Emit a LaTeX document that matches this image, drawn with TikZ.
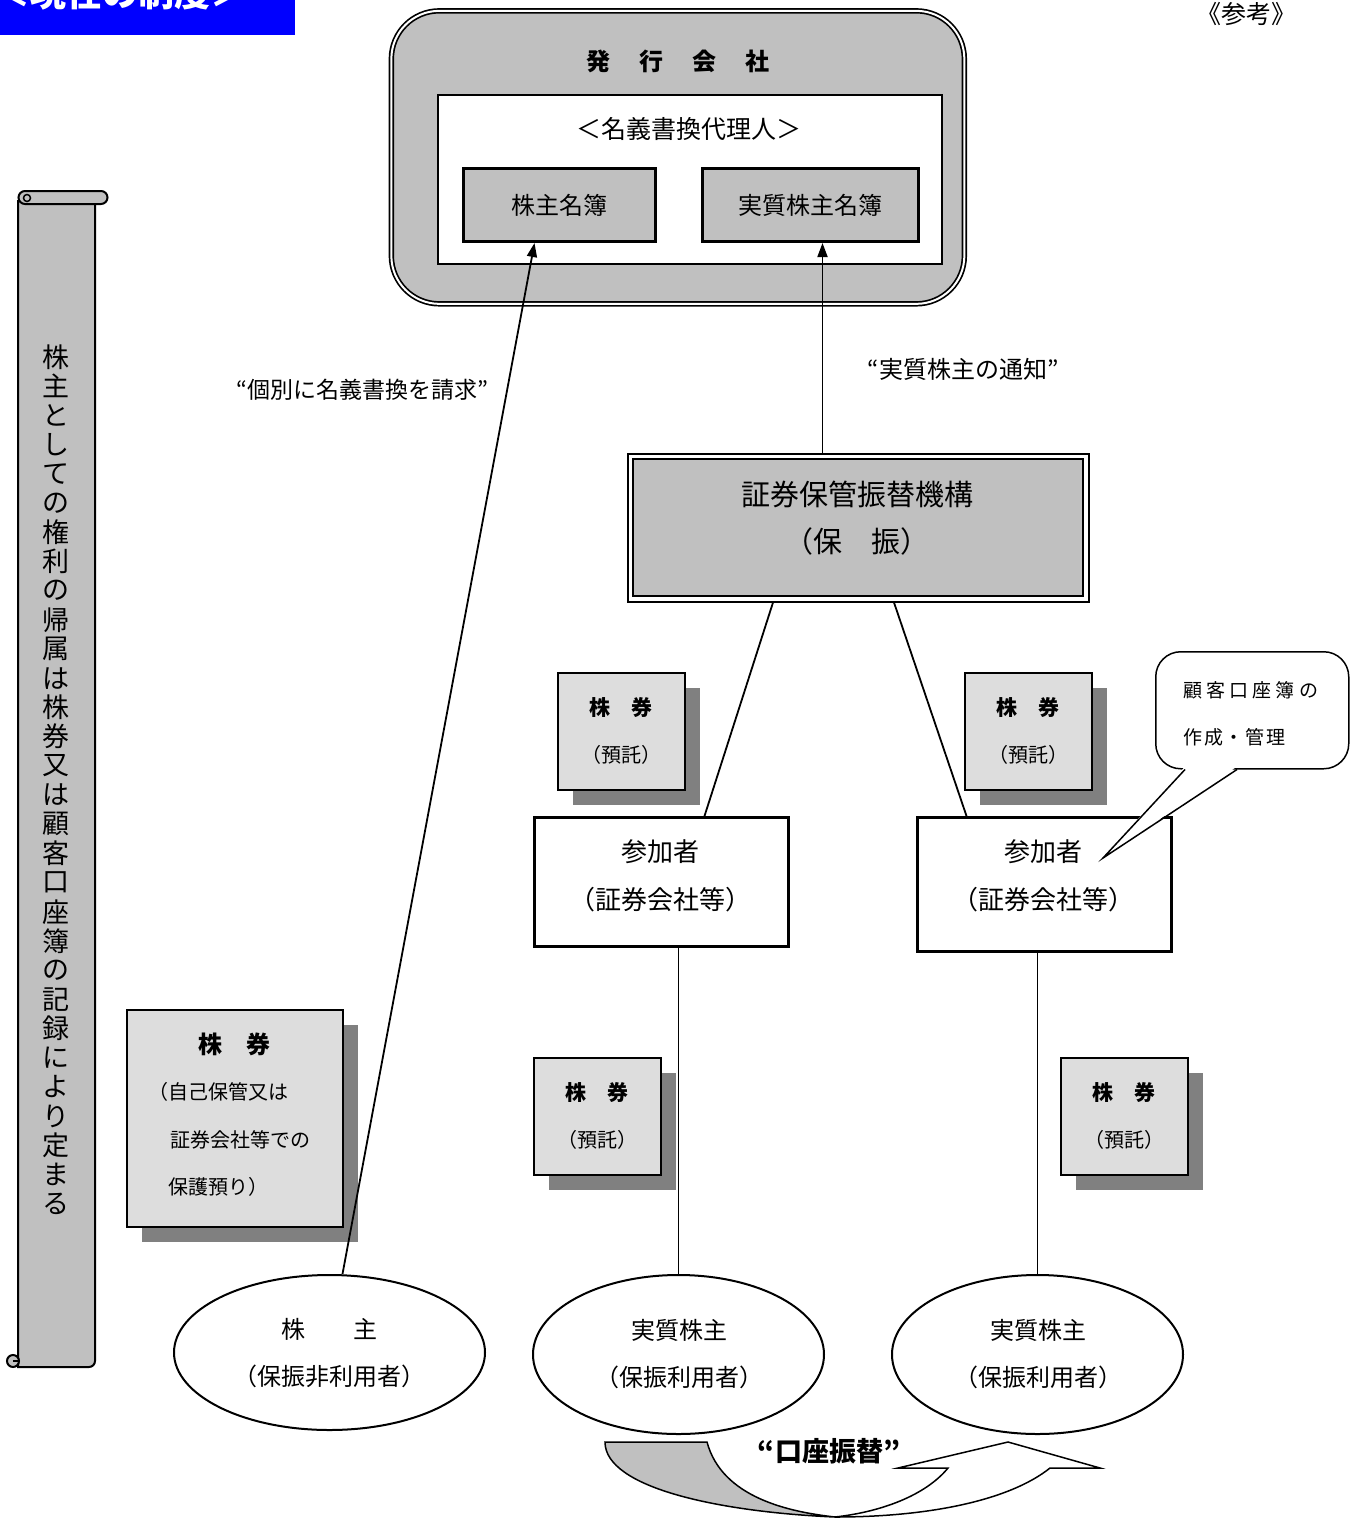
\documentclass[tikz,border=0pt]{standalone}
\usepackage{fontspec}
\setmainfont{Noto Sans CJK JP}
\usetikzlibrary{shapes.geometric,arrows.meta,calc}
\definecolor{sg}{HTML}{C0C0C0}
\definecolor{lg}{HTML}{DDDDDD}
\definecolor{sh}{HTML}{808080}
\definecolor{bl}{HTML}{0000FF}
\newcommand\fsz[1]{\fontsize{#1pt}{#1pt}\selectfont}
\begin{document}
\begin{tikzpicture}[x=1pt,y=-1pt,
  every node/.style={inner sep=0pt},
  txt/.style={inner sep=0pt, align=center},
  cshadow/.style={fill=sh, anchor=north west, minimum width=127pt, minimum height=117pt},
  cert/.style={draw, line width=1.5pt, fill=lg, anchor=north west, minimum width=127pt, minimum height=117pt},
  part/.style={draw, line width=3pt, fill=white, anchor=north west, minimum width=254pt},
  owner/.style={draw, ellipse, line width=2pt, fill=white},
  conn/.style={line width=1.8pt},
  arr/.style={line width=1.8pt, -{Triangle[length=14pt,width=10pt]}},
  book/.style={draw, line width=3pt, fill=sg, anchor=north west, minimum height=73pt, font=\fsz{24}}
]
\useasboundingbox (0,0) rectangle (1357,1521);

% top-left tag
\node[fill=bl, anchor=north west, minimum width=295pt, minimum height=50pt] (tag) at (0,-15) {};
\node[anchor=base west, text=white, font=\fsz{36}\bfseries] (tagtext) at (-6,6) {＜現在の制度＞};
\node[anchor=base, font=\fsz{25}] (ref) at (1246,23) {《参考》};

% scroll
\draw[line width=2pt, fill=sg] (18,200) -- (18,1367) -- (89,1367) arc[start angle=90, end angle=0, radius=6] -- (95,200);
\draw[line width=2pt, fill=sg] (25,191) -- (101,191) arc[start angle=-90, end angle=90, radius=6.5] -- (25,204) arc[start angle=90, end angle=270, radius=6.5] -- cycle;
\draw[line width=1.5pt] (27,198) circle[radius=3.5];
\draw[line width=2pt, fill=sg] (13,1361) circle[radius=6];
\draw[line width=1.5pt] (13,1361) -- (19,1361);
\foreach \c [count=\i from 0] in {株,主,と,し,て,の,権,利,の,帰,属,は,株,券,又,は,顧,客,口,座,簿,の,記,録,に,よ,り,定,ま,る}
  \node[font=\fsz{27}] (sc\i) at (56,357+29.2*\i) {\c};

% issuing company
\node[draw, line width=1.7pt, double=white, double distance=2pt, fill=sg, rounded corners=48pt, anchor=north west, minimum width=573pt, minimum height=293pt] (issuer) at (390.5,10) {};
\node[font=\fsz{24}\bfseries] (issuertitle) at (678,61) {発\hspace{29pt}行\hspace{29pt}会\hspace{29pt}社};
\node[draw, line width=1.5pt, fill=white, anchor=north west, minimum width=504pt, minimum height=169pt] (agent) at (437,94) {};
\node[font=\fsz{25}] (agenttitle) at (689,129) {＜名義書換代理人＞};
\node[book, minimum width=192pt] (meibo) at (462,167) {株主名簿};
\node[book, minimum width=216pt] (jmeibo) at (701,167) {実質株主名簿};

% hofuri
\node[draw, line width=2pt, anchor=north west, minimum width=461pt, minimum height=148pt] (hofuriout) at (626.5,452.5) {};
\node[draw, line width=2.8pt, fill=sg, minimum width=450pt, minimum height=137pt] (hofuri) at (hofuriout.center) {};
\node[font=\fsz{29}] (hofurit1) at (857,494) {証券保管振替機構};
\node[font=\fsz{29}] (hofurit2) at (857,541) {（保　振）};

% certificates
\node[cshadow] (cAs) at (573,688) {};
\node[cert] (cA) at (557,672) {};
\node[cshadow] (cBs) at (980,688) {};
\node[cert] (cB) at (964,672) {};
\node[cshadow] (cCs) at (549,1073) {};
\node[cert] (cC) at (533,1057) {};
\node[cshadow] (cDs) at (1076,1073) {};
\node[cert] (cD) at (1060,1057) {};
\foreach \n/\x/\y in {cA/621/707, cB/1028/707, cC/597/1092, cD/1124/1092}{
  \node[font=\fsz{21}\bfseries] (\n t1) at (\x,\y) {株　券};
  \node[font=\fsz{20}] (\n t2) at (\x,\y+48) {（預託）};
}
\node[cshadow, minimum width=216pt, minimum height=217pt] (cEs) at (142,1025) {};
\node[cert, minimum width=216pt, minimum height=217pt] (cE) at (126,1009) {};
\node[font=\fsz{24}\bfseries] (cEt1) at (234,1044) {株　券};
\node[anchor=west, font=\fsz{20}] (cEt2) at (148,1092) {（自己保管又は};
\node[anchor=west, font=\fsz{20}] (cEt3) at (170,1140) {証券会社等での};
\node[anchor=west, font=\fsz{20}] (cEt4) at (168,1187) {保護預り）};

% participants
\node[part, minimum height=129pt] (p1) at (533,816) {};
\node[font=\fsz{26}] (p1t1) at (660,852) {参加者};
\node[font=\fsz{26}] (p1t2) at (660,900) {（証券会社等）};
\node[part, minimum height=134pt] (p2) at (916,816) {};
\node[font=\fsz{26}] (p2t1) at (1043,852) {参加者};
\node[font=\fsz{26}] (p2t2) at (1043,900) {（証券会社等）};

% owners
\node[owner, minimum width=311pt, minimum height=155pt] (sh1) at (329.5,1352.5) {};
\node[font=\fsz{24}] (sh1t1) at (329,1329) {株　　主};
\node[font=\fsz{24}] (sh1t2) at (329,1376) {（保振非利用者）};
\node[owner, minimum width=291pt, minimum height=159pt] (sh2) at (678.5,1354.5) {};
\node[font=\fsz{24}] (sh2t1) at (679,1330) {実質株主};
\node[font=\fsz{24}] (sh2t2) at (679,1377) {（保振利用者）};
\node[owner, minimum width=291pt, minimum height=159pt] (sh3) at (1037.5,1354.5) {};
\node[font=\fsz{24}] (sh3t1) at (1038,1330) {実質株主};
\node[font=\fsz{24}] (sh3t2) at (1038,1377) {（保振利用者）};

% connectors
\draw[conn] ($(hofuriout.south)+(-85,0)$) -- ($(p1.north)+(43,0)$);
\draw[conn] ($(hofuriout.south)+(36,0)$) -- ($(p2.north)+(-78,0)$);
\draw[conn] (sh2.north |- p1.south) -- (sh2.north);
\draw[conn] (sh3.north |- p2.south) -- (sh3.north);
\draw[arr] ($(sh1.north)+(13,0)$) -- ($(meibo.south)+(-25,0)$);
\coordinate (a2) at ($(jmeibo.south)+(12,0)$);
\draw[arr] (a2 |- hofuriout.north) -- (a2);

\node[font=\fsz{23}] (reqlabel) at (362,390) {“個別に名義書換を請求”};
\node[font=\fsz{24}] (notlabel) at (963,369) {“実質株主の通知”};

% speech bubble
\node[draw, line width=1.5pt, fill=white, rounded corners=25pt, anchor=north west, minimum width=193pt, minimum height=117pt] (bubble) at (1155,651) {};
\coordinate (tip) at (1103,858);
\fill[white] ($(bubble.south west)+(30,-3)$) -- (tip) -- ($(bubble.south west)+(82,-3)$) -- cycle;
\draw[line width=1.5pt] ($(bubble.south west)+(30,0)$) -- (tip) -- ($(bubble.south west)+(82,0)$);
\node[anchor=west, font=\fsz{19}\addfontfeature{LetterSpace=22}] (bt1) at (1183,690) {顧客口座簿の};
\node[anchor=west, font=\fsz{19}\addfontfeature{LetterSpace=10}] (bt2) at (1183,737) {作成・管理};

% transfer arrow
\draw[line width=1.5pt, fill=sg] (605,1442) -- (707,1442) .. controls (722,1498) and (790,1512) .. (835,1517) .. controls (720,1512) and (605,1488) .. (605,1442) -- cycle;
\draw[line width=1.5pt, fill=white] (835,1517) .. controls (930,1517) and (1010,1500) .. (1050,1468) -- (1100,1468) -- (1008,1442) -- (898,1468) -- (948,1468) .. controls (925,1496) and (880,1512) .. (835,1517) -- cycle;
\node[font=\fsz{27}\bfseries] (transfer) at (829,1451) {“口座振替”};
\end{tikzpicture}
\end{document}
